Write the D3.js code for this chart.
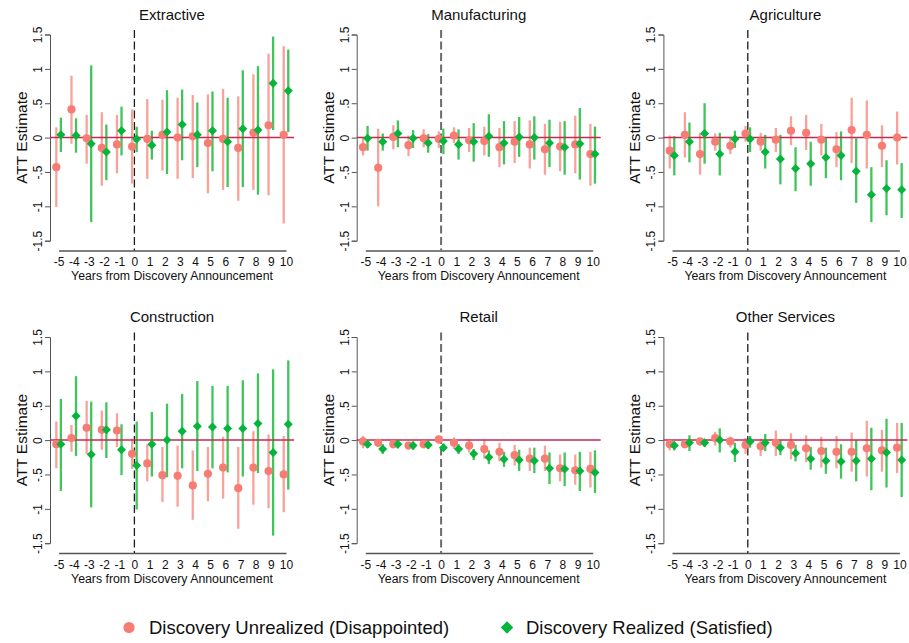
<!DOCTYPE html>
<html>
<head>
<meta charset="utf-8">
<script src="https://d3js.org/d3.v7.min.js"></script>
<style>
  body { margin: 0; background: #fff; }
  text { font-family: "Liberation Sans", Arial, sans-serif; fill: #111; }
</style>
</head>
<body>
<svg id="chart" width="909" height="643"></svg>
<script>
var panels = ["Extractive", "Manufacturing", "Agriculture", "Construction", "Retail", "Other Services"];
var years = [-5, -4, -3, -2, -1, 0, 1, 2, 3, 4, 5, 6, 7, 8, 9, 10];
var yTicks = [1.5, 1, 0.5, 0, -0.5, -1, -1.5];
var yTickLabels = ["1.5", "1", ".5", "0", "-.5", "-1", "-1.5"];
var seriesNames = ["Discovery Unrealized (Disappointed)", "Discovery Realized (Satisfied)"];

// Discovery unrealized (red circles), one row per panel
var unrealEst = [
  [-0.43, 0.41, -0.01, -0.15, -0.10, -0.13, -0.02, 0.04, 0.00, 0.02, -0.08, -0.02, -0.15, 0.07, 0.18, 0.04],
  [-0.14, -0.44, 0.01, -0.11, -0.01, -0.02, 0.03, -0.04, -0.05, -0.14, -0.06, -0.10, -0.17, -0.13, -0.10, -0.24],
  [-0.19, 0.04, -0.24, -0.06, -0.12, 0.06, -0.06, -0.03, 0.10, 0.07, -0.03, -0.17, 0.11, 0.04, -0.12, 0.00],
  [-0.06, 0.03, 0.18, 0.15, 0.14, -0.20, -0.34, -0.51, -0.52, -0.66, -0.49, -0.40, -0.70, -0.40, -0.45, -0.50],
  [-0.02, -0.04, -0.06, -0.08, -0.06, 0.01, -0.04, -0.08, -0.13, -0.17, -0.22, -0.27, -0.27, -0.41, -0.44, -0.42],
  [-0.06, -0.06, -0.02, 0.03, -0.02, -0.07, -0.09, -0.04, -0.07, -0.12, -0.16, -0.17, -0.17, -0.12, -0.15, -0.11]
];
var unrealLo = [
  [-1.01, -0.09, -0.38, -0.70, -0.52, -0.67, -0.60, -0.48, -0.60, -0.59, -0.81, -0.76, -0.92, -0.76, -0.84, -1.25],
  [-0.26, -1.00, -0.17, -0.27, -0.14, -0.15, -0.08, -0.21, -0.26, -0.43, -0.37, -0.45, -0.54, -0.49, -0.52, -0.70],
  [-0.45, -0.29, -0.54, -0.19, -0.24, -0.06, -0.19, -0.21, -0.11, -0.18, -0.26, -0.43, -0.37, -0.45, -0.43, -0.39],
  [-0.41, -0.17, -0.20, -0.14, -0.10, -0.42, -0.60, -0.90, -0.97, -1.16, -0.89, -0.85, -1.29, -0.94, -0.99, -1.05],
  [-0.12, -0.10, -0.12, -0.13, -0.12, -0.05, -0.13, -0.18, -0.27, -0.31, -0.37, -0.45, -0.45, -0.60, -0.65, -0.69],
  [-0.15, -0.12, -0.08, -0.08, -0.11, -0.20, -0.23, -0.23, -0.28, -0.32, -0.40, -0.41, -0.46, -0.53, -0.46, -0.48]
];
var unrealHi = [
  [0.15, 0.90, 0.33, 0.37, 0.33, 0.41, 0.56, 0.55, 0.58, 0.62, 0.63, 0.71, 0.60, 0.92, 1.22, 1.33],
  [0.01, 0.13, 0.18, 0.03, 0.12, 0.09, 0.15, 0.14, 0.16, 0.14, 0.24, 0.25, 0.20, 0.23, 0.32, 0.20],
  [0.03, 0.37, 0.07, 0.06, 0.01, 0.17, 0.07, 0.14, 0.31, 0.33, 0.20, 0.08, 0.58, 0.54, 0.18, 0.38],
  [0.27, 0.22, 0.57, 0.43, 0.39, 0.02, -0.06, -0.10, -0.08, -0.15, -0.10, 0.05, -0.10, 0.13, 0.08, 0.06],
  [0.06, 0.01, -0.01, -0.04, 0.00, 0.06, 0.04, 0.01, 0.00, -0.04, -0.07, -0.11, -0.08, -0.21, -0.21, -0.17],
  [0.00, 0.00, 0.02, 0.12, 0.05, 0.03, 0.02, 0.14, 0.10, 0.07, 0.05, 0.06, 0.11, 0.28, 0.15, 0.25]
];

// Discovery realized (green diamonds), one row per panel
var realEst = [
  [0.04, 0.03, -0.09, -0.21, 0.10, -0.02, -0.11, 0.08, 0.19, 0.04, 0.10, -0.06, 0.13, 0.11, 0.79, 0.68],
  [-0.01, -0.06, 0.06, -0.01, -0.08, -0.05, -0.10, -0.06, 0.02, -0.08, 0.01, 0.00, -0.08, -0.14, -0.09, -0.24],
  [-0.26, -0.06, 0.06, -0.24, -0.02, -0.02, -0.21, -0.31, -0.45, -0.38, -0.29, -0.26, -0.49, -0.83, -0.74, -0.76],
  [-0.06, 0.35, -0.21, 0.15, -0.14, -0.37, -0.06, 0.00, 0.13, 0.20, 0.19, 0.17, 0.17, 0.24, -0.18, 0.23],
  [-0.06, -0.13, -0.06, -0.08, -0.07, -0.11, -0.13, -0.20, -0.25, -0.28, -0.29, -0.30, -0.41, -0.42, -0.45, -0.47],
  [-0.08, -0.04, -0.04, 0.00, -0.17, -0.02, -0.04, -0.11, -0.19, -0.27, -0.30, -0.31, -0.30, -0.27, -0.18, -0.29]
];
var realLo = [
  [-0.21, -0.22, -1.23, -0.62, -0.26, -0.21, -0.32, -0.53, -0.33, -0.43, -0.49, -0.72, -0.72, -0.83, 0.11, 0.08],
  [-0.19, -0.19, -0.14, -0.15, -0.22, -0.24, -0.32, -0.35, -0.28, -0.39, -0.28, -0.32, -0.43, -0.54, -0.61, -0.67],
  [-0.55, -0.36, -0.38, -0.55, -0.15, -0.21, -0.45, -0.68, -0.78, -0.70, -0.59, -0.62, -0.95, -1.23, -1.13, -1.17],
  [-0.74, -0.23, -0.98, -0.26, -0.51, -1.01, -0.53, -0.54, -0.41, -0.45, -0.41, -0.47, -0.53, -0.48, -1.39, -0.72],
  [-0.11, -0.20, -0.12, -0.14, -0.13, -0.16, -0.20, -0.29, -0.35, -0.39, -0.45, -0.48, -0.64, -0.67, -0.74, -0.77],
  [-0.15, -0.16, -0.10, -0.18, -0.32, -0.11, -0.16, -0.22, -0.31, -0.43, -0.49, -0.56, -0.60, -0.73, -0.69, -0.83]
];
var realHi = [
  [0.29, 0.28, 1.05, 0.19, 0.45, 0.16, 0.10, 0.69, 0.70, 0.51, 0.67, 0.58, 0.98, 1.04, 1.47, 1.28],
  [0.17, 0.06, 0.25, 0.11, 0.05, 0.13, 0.12, 0.21, 0.34, 0.24, 0.30, 0.31, 0.26, 0.24, 0.43, 0.16],
  [0.02, 0.22, 0.50, 0.07, 0.10, 0.15, 0.04, 0.04, -0.14, -0.06, 0.00, 0.09, -0.01, -0.43, -0.33, -0.37],
  [0.60, 0.93, 0.56, 0.55, 0.23, 0.27, 0.41, 0.53, 0.67, 0.86, 0.79, 0.79, 0.87, 0.97, 1.03, 1.16],
  [-0.01, -0.06, 0.00, -0.02, -0.02, -0.05, -0.06, -0.13, -0.15, -0.17, -0.14, -0.11, -0.18, -0.18, -0.17, -0.15],
  [-0.02, 0.07, 0.01, 0.17, -0.04, 0.06, 0.09, 0.00, -0.07, -0.10, -0.11, -0.06, 0.00, 0.18, 0.31, 0.25]
];

var red = "#f67c74", redBar = "#f9a29a",
    green = "#05b43a", greenBar = "#3fc55b",
    zeroColor = "#c42a52";

var svg = d3.select("#chart");

// panel geometry (local coordinates inside each panel)
var panelW = 306.7, panelH = 302.5;
var x = d3.scaleLinear().domain([-5, 10]).range([58.6, 286]);
var y = d3.scaleLinear().domain([1.5, -1.5]).range([34.5, 240.7]);
var axisX = 50, plotTop = 30, plotRight = 294, baseY = 250.5;
var shift = 0.15;

panels.forEach(function (name, p) {
  var col = p % 3, row = Math.floor(p / 3);
  var g = svg.append("g")
      .attr("transform", "translate(" + (col * panelW) + "," + (row * panelH) + ")");

  // title
  g.append("text")
      .attr("x", 172).attr("y", 19.5)
      .attr("text-anchor", "middle")
      .style("font-size", "15px")
      .text(name);

  // y axis
  var ya = g.append("g")
      .attr("transform", "translate(" + axisX + ",0)")
      .call(d3.axisLeft(y).tickValues(yTicks).tickSize(5)
            .tickFormat(function (d, i) { return yTickLabels[i]; }));
  ya.select(".domain").attr("stroke", "#555");
  ya.selectAll(".tick line").attr("stroke", "#555");
  ya.selectAll(".tick text")
      .attr("x", 0).attr("dy", null)
      .attr("transform", "translate(-8,0) rotate(-90)")
      .attr("text-anchor", "middle")
      .attr("fill", "#222")
      .style("font-size", "12px")
      .style("font-family", "'Liberation Sans', Arial, sans-serif");

  g.append("text")
      .attr("transform", "translate(27," + y(0) + ") rotate(-90)")
      .attr("text-anchor", "middle")
      .style("font-size", "15.5px")
      .text("ATT Estimate");

  // x axis
  var xa = g.append("g")
      .attr("transform", "translate(0," + baseY + ")")
      .call(d3.axisBottom(x).tickValues(years).tickSize(0).tickPadding(0)
            .tickFormat(d3.format("d")));
  xa.select(".domain").attr("stroke", "#555").attr("stroke-width", 1.3);
  xa.selectAll(".tick text")
      .attr("y", 15.8).attr("dy", null)
      .attr("fill", "#111")
      .style("font-size", "12px")
      .style("font-family", "'Liberation Sans', Arial, sans-serif")
      .text(function (d) { return d < 0 ? "-" + Math.abs(d) : d; });

  g.append("text")
      .attr("x", 172).attr("y", 280)
      .attr("text-anchor", "middle")
      .style("font-size", "12.3px")
      .text("Years from Discovery Announcement");

  // dashed announcement line
  var grayDash = (p === 1 || p === 4);
  g.append("line")
      .attr("x1", x(0)).attr("x2", x(0))
      .attr("y1", plotTop).attr("y2", baseY)
      .attr("stroke", grayDash ? "#6c6c6c" : "#1c1c1c")
      .attr("stroke-width", grayDash ? 2 : 1.3)
      .attr("stroke-dasharray", "8,3.5");

  var redPts = years.map(function (yr, i) {
    return { x: yr - shift, est: unrealEst[p][i], lo: unrealLo[p][i], hi: unrealHi[p][i] };
  });
  var greenPts = years.map(function (yr, i) {
    return { x: yr + shift, est: realEst[p][i], lo: realLo[p][i], hi: realHi[p][i] };
  });

  // confidence intervals
  g.selectAll(".ciRed").data(redPts).enter().append("line")
      .attr("x1", function (d) { return x(d.x); })
      .attr("x2", function (d) { return x(d.x); })
      .attr("y1", function (d) { return y(d.lo); })
      .attr("y2", function (d) { return y(d.hi); })
      .attr("stroke", redBar).attr("stroke-width", 2.3);
  g.selectAll(".ciGreen").data(greenPts).enter().append("line")
      .attr("x1", function (d) { return x(d.x); })
      .attr("x2", function (d) { return x(d.x); })
      .attr("y1", function (d) { return y(d.lo); })
      .attr("y2", function (d) { return y(d.hi); })
      .attr("stroke", greenBar).attr("stroke-width", 2.3);

  // zero line
  g.append("line")
      .attr("x1", axisX).attr("x2", plotRight)
      .attr("y1", y(0)).attr("y2", y(0))
      .attr("stroke", zeroColor).attr("stroke-width", 1.5);

  // point estimates
  g.selectAll(".dotRed").data(redPts).enter().append("circle")
      .attr("cx", function (d) { return x(d.x); })
      .attr("cy", function (d) { return y(d.est); })
      .attr("r", 4.1)
      .attr("fill", red);
  g.selectAll(".dotGreen").data(greenPts).enter().append("path")
      .attr("d", d3.symbol().type(d3.symbolDiamond2).size(52))
      .attr("transform", function (d) { return "translate(" + x(d.x) + "," + y(d.est) + ")"; })
      .attr("fill", green);
});

// legend
var leg = svg.append("g");
leg.append("circle").attr("cx", 129).attr("cy", 627.5).attr("r", 5.6).attr("fill", red);
leg.append("text").attr("x", 149).attr("y", 634)
    .style("font-size", "18.5px").text(seriesNames[0]);
leg.append("path")
    .attr("d", d3.symbol().type(d3.symbolDiamond2).size(100))
    .attr("transform", "translate(507,627.5)")
    .attr("fill", green);
leg.append("text").attr("x", 526).attr("y", 634)
    .style("font-size", "18.5px").text(seriesNames[1]);
</script>
</body>
</html>
